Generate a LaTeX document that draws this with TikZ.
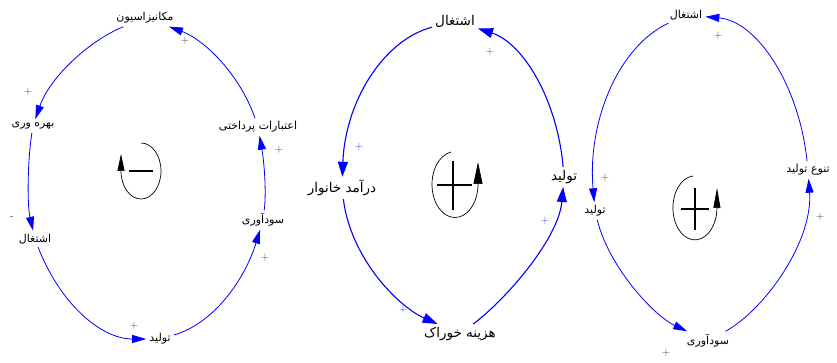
\documentclass[tikz,border=0pt]{standalone}
\usepackage{fontspec}
\usetikzlibrary{arrows.meta}
\newfontfamily\farsifont[Script=Arabic]{DejaVu Sans}
\TeXXeTstate=1
\newcommand{\fa}[1]{\farsifont\beginR #1\endR}

\begin{document}
\begin{tikzpicture}[x=1pt, y=1pt,
  var/.style={inner sep=3pt, font=\fontsize{11}{13}\selectfont},
  bigvar/.style={inner sep=3pt, font=\fontsize{13.5}{16}\selectfont},
  link/.style={blue, line width=0.8pt, -{Triangle[length=14pt,width=8pt]}},
  biglink/.style={blue, line width=1.1pt, -{Triangle[length=15pt,width=10pt]}},
  sgn/.style={inner sep=0pt, text=black!78, font=\fontsize{11}{13}\selectfont},
  bsgn/.style={sgn, text=blue!80},
  loopmark/.style={black, line width=0.7pt}]
  \useasboundingbox (0,0) rectangle (837,-363);

  % first loop: mechanisation, productivity, employment, production, profit, credit
  \node[var] (mk) at (145,-18)  {\fa{مکانیزاسیون}};
  \node[var] (bv) at (33,-126)  {\fa{بهره وری}};
  \node[var] (as) at (35,-239)  {\fa{اشتغال}};
  \node[var] (tl) at (160,-339) {\fa{تولید}};
  \node[var] (sd) at (263,-220) {\fa{سودآوری}};
  \node[var] (et) at (258,-127) {\fa{اعتبارات پرداختی}};
  \draw[link] (mk) to[out=202, in=71, out distance=36, in distance=45] (bv);
  \draw[link] (bv) to[out=261, in=103, out distance=28, in distance=27] (as);
  \draw[link] (as) to[out=-69, in=180, out distance=59, in distance=46] (tl);
  \draw[link] (tl) to[out=16, in=-107, out distance=41, in distance=53] (sd);
  \draw[link] (sd) to[out=83, in=-80, out distance=22, in distance=22] (et);
  \draw[link] (et) to[out=109, in=-20, out distance=47, in distance=37] (mk);
  \foreach \nm/\px/\py/\s in {s1/185/-41/+, s2/28/-92/+, s3/12/-218/-, s4/134/-326/+, s5/265/-258/+, s6/279/-150/+}
    \node[sgn] (\nm) at (\px,\py) {\s};
  \draw[loopmark, -{Triangle[length=17pt,width=7pt]}] (141,-143)
    arc[start angle=90, end angle=-180, x radius=20, y radius=28] -- (121,-154);
  \draw[line width=2pt] (129,-171) -- (153,-171);

  % second loop
  \node[bigvar] (as2) at (455,-21)  {\fa{اشتغال}};
  \node[bigvar] (dk)  at (342,-188) {\fa{درآمد خانوار}};
  \node[bigvar] (hz)  at (460,-334) {\fa{هزینه خوراک}};
  \node[bigvar] (tl2) at (564,-177) {\fa{تولید}};
  \draw[biglink] (as2) to[out=195, in=88, out distance=52, in distance=73] (dk);
  \draw[biglink] (dk) to[out=-83, in=156, out distance=59, in distance=44] (hz);
  \draw[biglink] (hz) to[out=37, in=-95, out distance=41, in distance=52] (tl2);
  \draw[biglink] (tl2) to[out=95, in=-18, out distance=67, in distance=48] (as2);
  \foreach \nm/\px/\py in {t1/490/-52, t2/359/-147, t3/403/-310, t4/545/-221}
    \node[bsgn] (\nm) at (\px,\py) {+};
  \draw[loopmark, -{Triangle[length=22pt,width=9pt]}] (451,-152)
    arc[start angle=100, end angle=360, x radius=23, y radius=33] -- (478,-162);
  \draw[line width=2pt] (437,-185) -- (472,-185) (453,-161) -- (453,-210);

  % third loop
  \node[var] (as3) at (686,-15)  {\fa{اشتغال}};
  \node[var] (tl3) at (595,-211) {\fa{تولید}};
  \node[var] (sd3) at (708,-341) {\fa{سودآوری}};
  \node[var] (tt)  at (808,-170) {\fa{تنوع تولید}};
  \draw[link] (as3) to[out=205, in=95, out distance=56, in distance=80] (tl3);
  \draw[link] (tl3) to[out=-76, in=155, out distance=50, in distance=36] (sd3);
  \draw[link] (sd3) to[out=29, in=-86, out distance=45, in distance=63] (tt);
  \draw[link] (tt) to[out=96, in=-5, out distance=77, in distance=52] (as3);
  \foreach \nm/\px/\py in {u1/718/-36, u2/605/-178, u3/666/-353, u4/820/-217}
    \node[sgn] (\nm) at (\px,\py) {+};
  \draw[loopmark, -{Triangle[length=20pt,width=7pt]}] (693,-176)
    arc[start angle=95, end angle=360, x radius=22, y radius=32] -- (717,-188);
  \draw[line width=1.8pt] (681,-209) -- (709,-209) (695,-188) -- (695,-230);
\end{tikzpicture}
\end{document}
